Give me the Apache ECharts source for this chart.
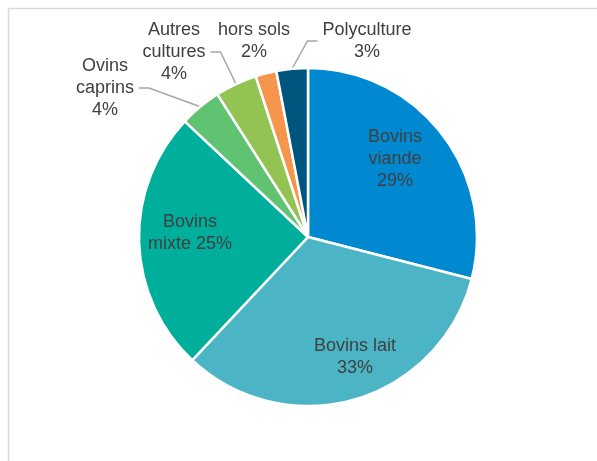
<!DOCTYPE html>
<html>
<head>
<meta charset="utf-8">
<script src="https://cdn.jsdelivr.net/npm/echarts@6/dist/echarts.min.js"></script>
<style>
html,body{margin:0;padding:0;background:#fff;}
#chart{width:597px;height:461px;}
</style>
</head>
<body>
<div id="chart"></div>
<script>
const categories = ['Bovins viande', 'Bovins lait', 'Bovins mixte', 'Ovins caprins', 'Autres cultures', 'hors sols', 'Polyculture'];
const values = [29, 33, 25, 4, 4, 2, 3];
const labelTexts = ['Bovins\nviande\n29%', 'Bovins lait\n33%', 'Bovins\nmixte 25%', 'Ovins\ncaprins\n4%', 'Autres\ncultures\n4%', 'hors sols\n2%', 'Polyculture\n3%'];
const colors = ['#0089D0', '#4BB5C6', '#00AE9C', '#5FC372', '#92C353', '#F5964C', '#00557F'];

// label block centers (layout, not data)
const labelPos = [[395, 159], [355, 357], [190, 233], [105, 88], [174, 52], [254, 41], [367, 41]];
const outside = [false, false, false, true, true, false, true];

const chart = echarts.init(document.getElementById('chart'), null, {renderer: 'canvas'});
chart.setOption({
  animation: false,
  graphic: [{
    type: 'rect',
    shape: {x: 8.5, y: 8.5, width: 700, height: 600},
    style: {fill: 'none', stroke: '#D9D9D9', lineWidth: 1.5},
    silent: true
  }],
  series: [{
    type: 'pie',
    center: [308, 237],
    radius: 169,
    startAngle: 90,
    clockwise: true,
    avoidLabelOverlap: false,
    itemStyle: {borderColor: '#fff', borderWidth: 2.5},
    label: {
      show: true,
      position: 'outside',
      fontFamily: 'Liberation Sans, Arial, sans-serif',
      fontSize: 18,
      lineHeight: 22,
      color: '#404040',
      align: 'center'
    },
    labelLine: {
      show: true,
      length: 10,
      length2: 10,
      lineStyle: {color: '#A6A6A6', width: 1.5}
    },
    labelLayout: function (p) {
      const pos = labelPos[p.dataIndex];
      return {x: pos[0], y: pos[1], align: 'center', verticalAlign: 'middle'};
    },
    data: categories.map((c, i) => ({
      name: c,
      value: values[i],
      itemStyle: {color: colors[i]},
      label: {
        formatter: labelTexts[i],
        position: outside[i] ? 'outside' : 'inside',
        padding: outside[i] ? [0, 5, 0, 5] : 0
      },
      labelLine: {show: outside[i]}
    }))
  }]
});
</script>
</body>
</html>
